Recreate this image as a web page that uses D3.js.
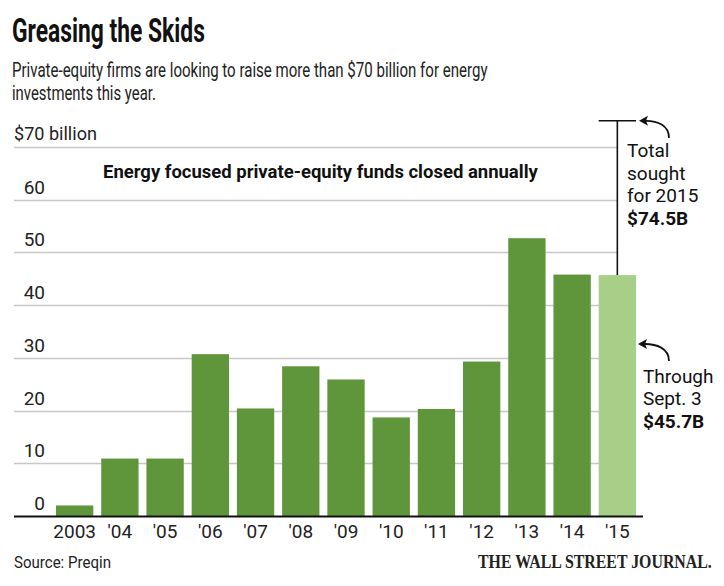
<!DOCTYPE html>
<html><head><meta charset="utf-8">
<script src="https://cdn.jsdelivr.net/npm/d3@7"></script>
<style>body{margin:0;background:#fff}svg{display:block}</style>
</head><body>
<svg id="c" width="724" height="586"></svg>
<script>
const categories = ["2003","'04","'05","'06","'07","'08","'09","'10","'11","'12","'13","'14","'15"];
const values = [2.0,10.9,10.9,30.7,20.4,28.4,25.9,18.7,20.3,29.3,52.7,45.8,45.7];
const yTicks = [0,10,20,30,40,50,60,70];
const soughtTotal = 74.5;

const svg = d3.select("#c");
const font = "'Liberation Sans Narrow','Roboto','Noto Sans',sans-serif";
const x = d3.scaleBand().domain(categories).range([56,636]).paddingInner(0.175).paddingOuter(0);
const y = d3.scaleLinear().domain([0,70]).range([516,147]);

function fitText(px, py, width, size, weight, family, txt, fill){
  const t = svg.append("text").attr("x",0).attr("y",0).attr("font-family",family||font)
    .attr("font-weight",weight||"normal").attr("font-size",size).attr("fill",fill||"#222").text(txt);
  const w = t.node().getComputedTextLength();
  t.attr("transform",`translate(${px},${py}) scale(${width/w},1)`);
  return t;
}

// title
fitText(12,42,193,33,"bold",null,"Greasing the Skids","#111");
fitText(12,77,476,21,"normal",null,"Private-equity firms are looking to raise more than $70 billion for energy");
fitText(12,100,144,21,"normal",null,"investments this year.");

// gridlines
const grid = svg.append("g");
grid.selectAll("line").data(yTicks.filter(d=>d>0)).join("line")
  .attr("x1",14).attr("x2",617).attr("y1",d=>Math.round(y(d))+0.5).attr("y2",d=>Math.round(y(d))+0.5)
  .attr("stroke","#c8c8c8").attr("stroke-width",1.5);

// y labels
svg.append("g").selectAll("text").data(yTicks.filter(d=>d<70)).join("text")
  .attr("x",45).attr("y",d=>y(d)-6).attr("text-anchor","end")
  .attr("font-family",font).attr("font-size",19).attr("fill","#222").text(d=>d);
fitText(14,y(70)-7,83,19,"normal",null,"$70 billion");

// chart label
fitText(103,178,435,18.5,"bold",null,"Energy focused private-equity funds closed annually","#111");

// bars
svg.append("g").selectAll("rect").data(values).join("rect")
  .attr("x",(d,i)=>x(categories[i])).attr("width",x.bandwidth())
  .attr("y",d=>y(d)).attr("height",d=>y(0)-y(d))
  .attr("fill",(d,i)=>i===categories.length-1?"#a8cf88":"#5f963c");

// baseline
svg.append("line").attr("x1",14).attr("x2",643).attr("y1",y(0)+0.5).attr("y2",y(0)+0.5)
  .attr("stroke","#111").attr("stroke-width",2);

// x labels
const xAxis = d3.axisBottom(x).tickSize(0).tickPadding(0);
const xg = svg.append("g").attr("transform",`translate(0,${y(0)})`).call(xAxis);
xg.select(".domain").remove();
xg.selectAll("text").attr("dy",null).attr("y",22).attr("font-family",font).attr("font-size",19).attr("fill","#222");

// annotation: total sought
const last = categories[categories.length-1];
const cx = x(last)+x.bandwidth()/2;
const capY = y(soughtTotal)-2.5;
svg.append("line").attr("x1",cx).attr("x2",cx).attr("y1",y(values[values.length-1])).attr("y2",capY)
  .attr("stroke","#111").attr("stroke-width",1.6);
svg.append("line").attr("x1",x(last)).attr("x2",x(last)+x.bandwidth()).attr("y1",capY).attr("y2",capY)
  .attr("stroke","#111").attr("stroke-width",1.6);

function arrow(tx,ty,ex,ey){
  svg.append("path").attr("d",`M${ex},${ey} C${ex},${ty+4} ${tx+18},${ty} ${tx+7},${ty}`)
    .attr("fill","none").attr("stroke","#111").attr("stroke-width",1.8);
  svg.append("path").attr("d",`M${tx},${ty} L${tx+9},${ty-5} L${tx+7},${ty} L${tx+9},${ty+5} Z`).attr("fill","#111");
}
arrow(639,capY,669,138);
arrow(638,344,669,361);

const ann1 = ["Total","sought","for 2015"];
ann1.forEach((t,i)=>svg.append("text").attr("x",627).attr("y",157+i*22.5).attr("font-family",font)
  .attr("font-size",19).attr("fill","#111").text(t));
svg.append("text").attr("x",627).attr("y",225).attr("font-family",font).attr("font-weight","bold")
  .attr("font-size",19).attr("fill","#111").text("$74.5B");
const ann2 = ["Through","Sept. 3"];
ann2.forEach((t,i)=>svg.append("text").attr("x",643).attr("y",383+i*22).attr("font-family",font)
  .attr("font-size",19).attr("fill","#111").text(t));
svg.append("text").attr("x",643).attr("y",428).attr("font-family",font).attr("font-weight","bold")
  .attr("font-size",19).attr("fill","#111").text("$45.7B");

// footer
fitText(14,568,97,17,"normal",null,"Source: Preqin");
fitText(478,568,234,18,"bold","'Liberation Serif','DejaVu Serif',serif","THE WALL STREET JOURNAL.");
</script>
</body></html>
